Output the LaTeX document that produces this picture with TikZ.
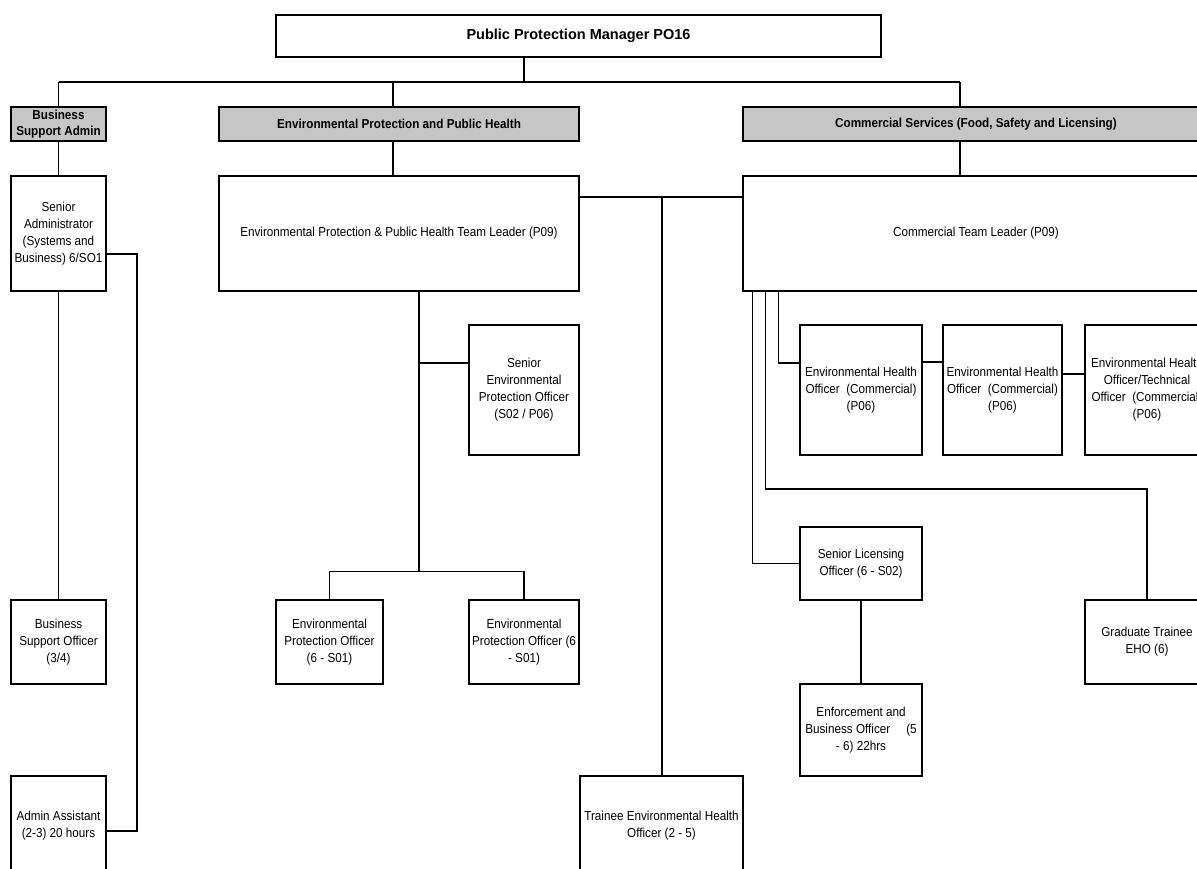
\documentclass[tikz,border=0pt]{standalone}
\usepackage{fontspec}
\setmainfont{Liberation Sans}
\newfontfamily\narrowfont{Liberation Sans}[FakeStretch=0.9]
\tikzset{
  box/.style={draw, line width=1.5pt, align=center, inner sep=2pt,
    font=\narrowfont\fontsize{13}{17}\selectfont},
  headbox/.style={box, fill=gray!45, font=\bfseries\narrowfont\fontsize{13}{16}\selectfont},
  link/.style={line width=1.5pt}
}
\begin{document}
\begin{tikzpicture}[x=1pt, y=-1pt]
        \useasboundingbox (0,0) rectangle (1197,869);
        \clip (0,0) rectangle (1197,869);
        \node[box, minimum width=605pt, minimum height=42pt, font=\bfseries\fontsize{14.5}{16}\selectfont] (top) at (578.5,36) {Public Protection Manager PO16};
        \node[headbox, minimum width=95pt, minimum height=34pt] (bsa) at (58.5,124) {Business\\Support Admin};
        \node[headbox, minimum width=360pt, minimum height=34pt] (eph) at (399,124) {Environmental Protection and Public Health};
        \node[headbox, minimum width=466pt, minimum height=34pt] (cs) at (976,124) {Commercial Services (Food, Safety and Licensing)};
        \node[box, minimum width=95pt, minimum height=115pt] (sadm) at (58.5,233.5) {Senior\\Administrator\\(Systems and\\Business) 6/SO1};
        \node[box, minimum width=360pt, minimum height=115pt] (eptl) at (399,233.5) {Environmental Protection \& Public Health Team Leader (P09)};
        \node[box, minimum width=466pt, minimum height=115pt] (ctl) at (976,233.5) {Commercial Team Leader (P09)};
        \node[box, minimum width=110pt, minimum height=130pt] (sepo) at (524,390) {Senior\\Environmental\\Protection Officer\\(S02 / P06)};
        \node[box, minimum width=107pt, minimum height=84pt] (epo1) at (329.5,642) {Environmental\\Protection Officer\\(6 - S01)};
        \node[box, minimum width=110pt, minimum height=84pt] (epo2) at (524,642) {Environmental\\Protection Officer (6\\- S01)};
        \node[box, minimum width=122pt, minimum height=130pt] (eho1) at (861,390) {Environmental Health\\Officer\ \ (Commercial)\\(P06)};
        \node[box, minimum width=119pt, minimum height=130pt] (eho2) at (1002.5,390) {Environmental Health\\Officer\ \ (Commercial)\\(P06)};
        \node[box, minimum width=124pt, minimum height=130pt] (eho3) at (1147,390) {Environmental Health\\Officer/Technical\\Officer\ \ (Commercial)\\(P06)};
        \node[box, minimum width=122pt, minimum height=73pt] (slo) at (861,563.5) {Senior Licensing\\Officer (6 - S02)};
        \node[box, minimum width=122pt, minimum height=92pt] (enf) at (861,730) {Enforcement and\\Business Officer\hspace{16pt}(5\\- 6) 22hrs};
        \node[box, minimum width=124pt, minimum height=84pt] (grad) at (1147,642) {Graduate Trainee\\EHO (6)};
        \node[box, minimum width=95pt, minimum height=84pt] (bso) at (58.5,642) {Business\\Support Officer\\(3/4)};
        \node[box, minimum width=95pt, minimum height=100pt] (aa) at (58.5,826) {Admin Assistant\\(2-3) 20 hours};
        \node[box, minimum width=163pt, minimum height=100pt] (tehp) at (661.5,826) {Trainee Environmental Health\\Officer (2 - 5)};
        \coordinate (jtop) at (524,82);
        \coordinate (jeph) at (393,82);
        \coordinate (jcs) at (960,82);
        \coordinate (jmid) at (662,197);
        \coordinate (jadm) at (137,254);
        \coordinate (jaa) at (137,831);
        \coordinate (jep) at (419,363);
        \coordinate (jepo) at (419,572);
        \draw[link] (bsa.north |- jtop) -- (jcs);
        \draw[link] (jtop) -- (jtop |- top.south);
        \draw[link] (bsa.north |- jtop) -- (bsa.north);
        \draw[link] (jeph) -- (jeph |- eph.north);
        \draw[link] (jcs) -- (jcs |- cs.north);
        \draw[link] (bsa) -- (sadm);
        \draw[link] (jeph |- eph.south) -- (jeph |- eptl.north);
        \draw[link] (jcs |- cs.south) -- (jcs |- ctl.north);
        \draw[link] (jmid -| eptl.east) -- (jmid -| ctl.west);
        \draw[link] (jmid) -- (jmid |- tehp.north);
        \draw[link] (sadm.east |- jadm) -- (jadm) -- (jaa) -- (jaa -| aa.east);
        \draw[link] (sadm) -- (bso);
        \draw[link] (jep |- eptl.south) -- (jepo);
        \draw[link] (jep) -- (jep -| sepo.west);
        \draw[link] (epo1.north) -- ++(0,-28) -| (epo2.north);
        \draw[link] ([xshift=10pt]ctl.south west) |- (slo);
        \draw[link] ([xshift=23pt]ctl.south west) -- ++(0,197) -| (grad);
        \draw[link] ([xshift=36pt]ctl.south west) |- ([yshift=27pt]eho1.west);
        \draw[link] ([yshift=28pt]eho1.east) -- ([yshift=28pt]eho2.west);
        \draw[link] ([yshift=16pt]eho2.east) -- ([yshift=16pt]eho3.west);
        \draw[link] (slo) -- (enf);
        \end{tikzpicture}
\end{document}
